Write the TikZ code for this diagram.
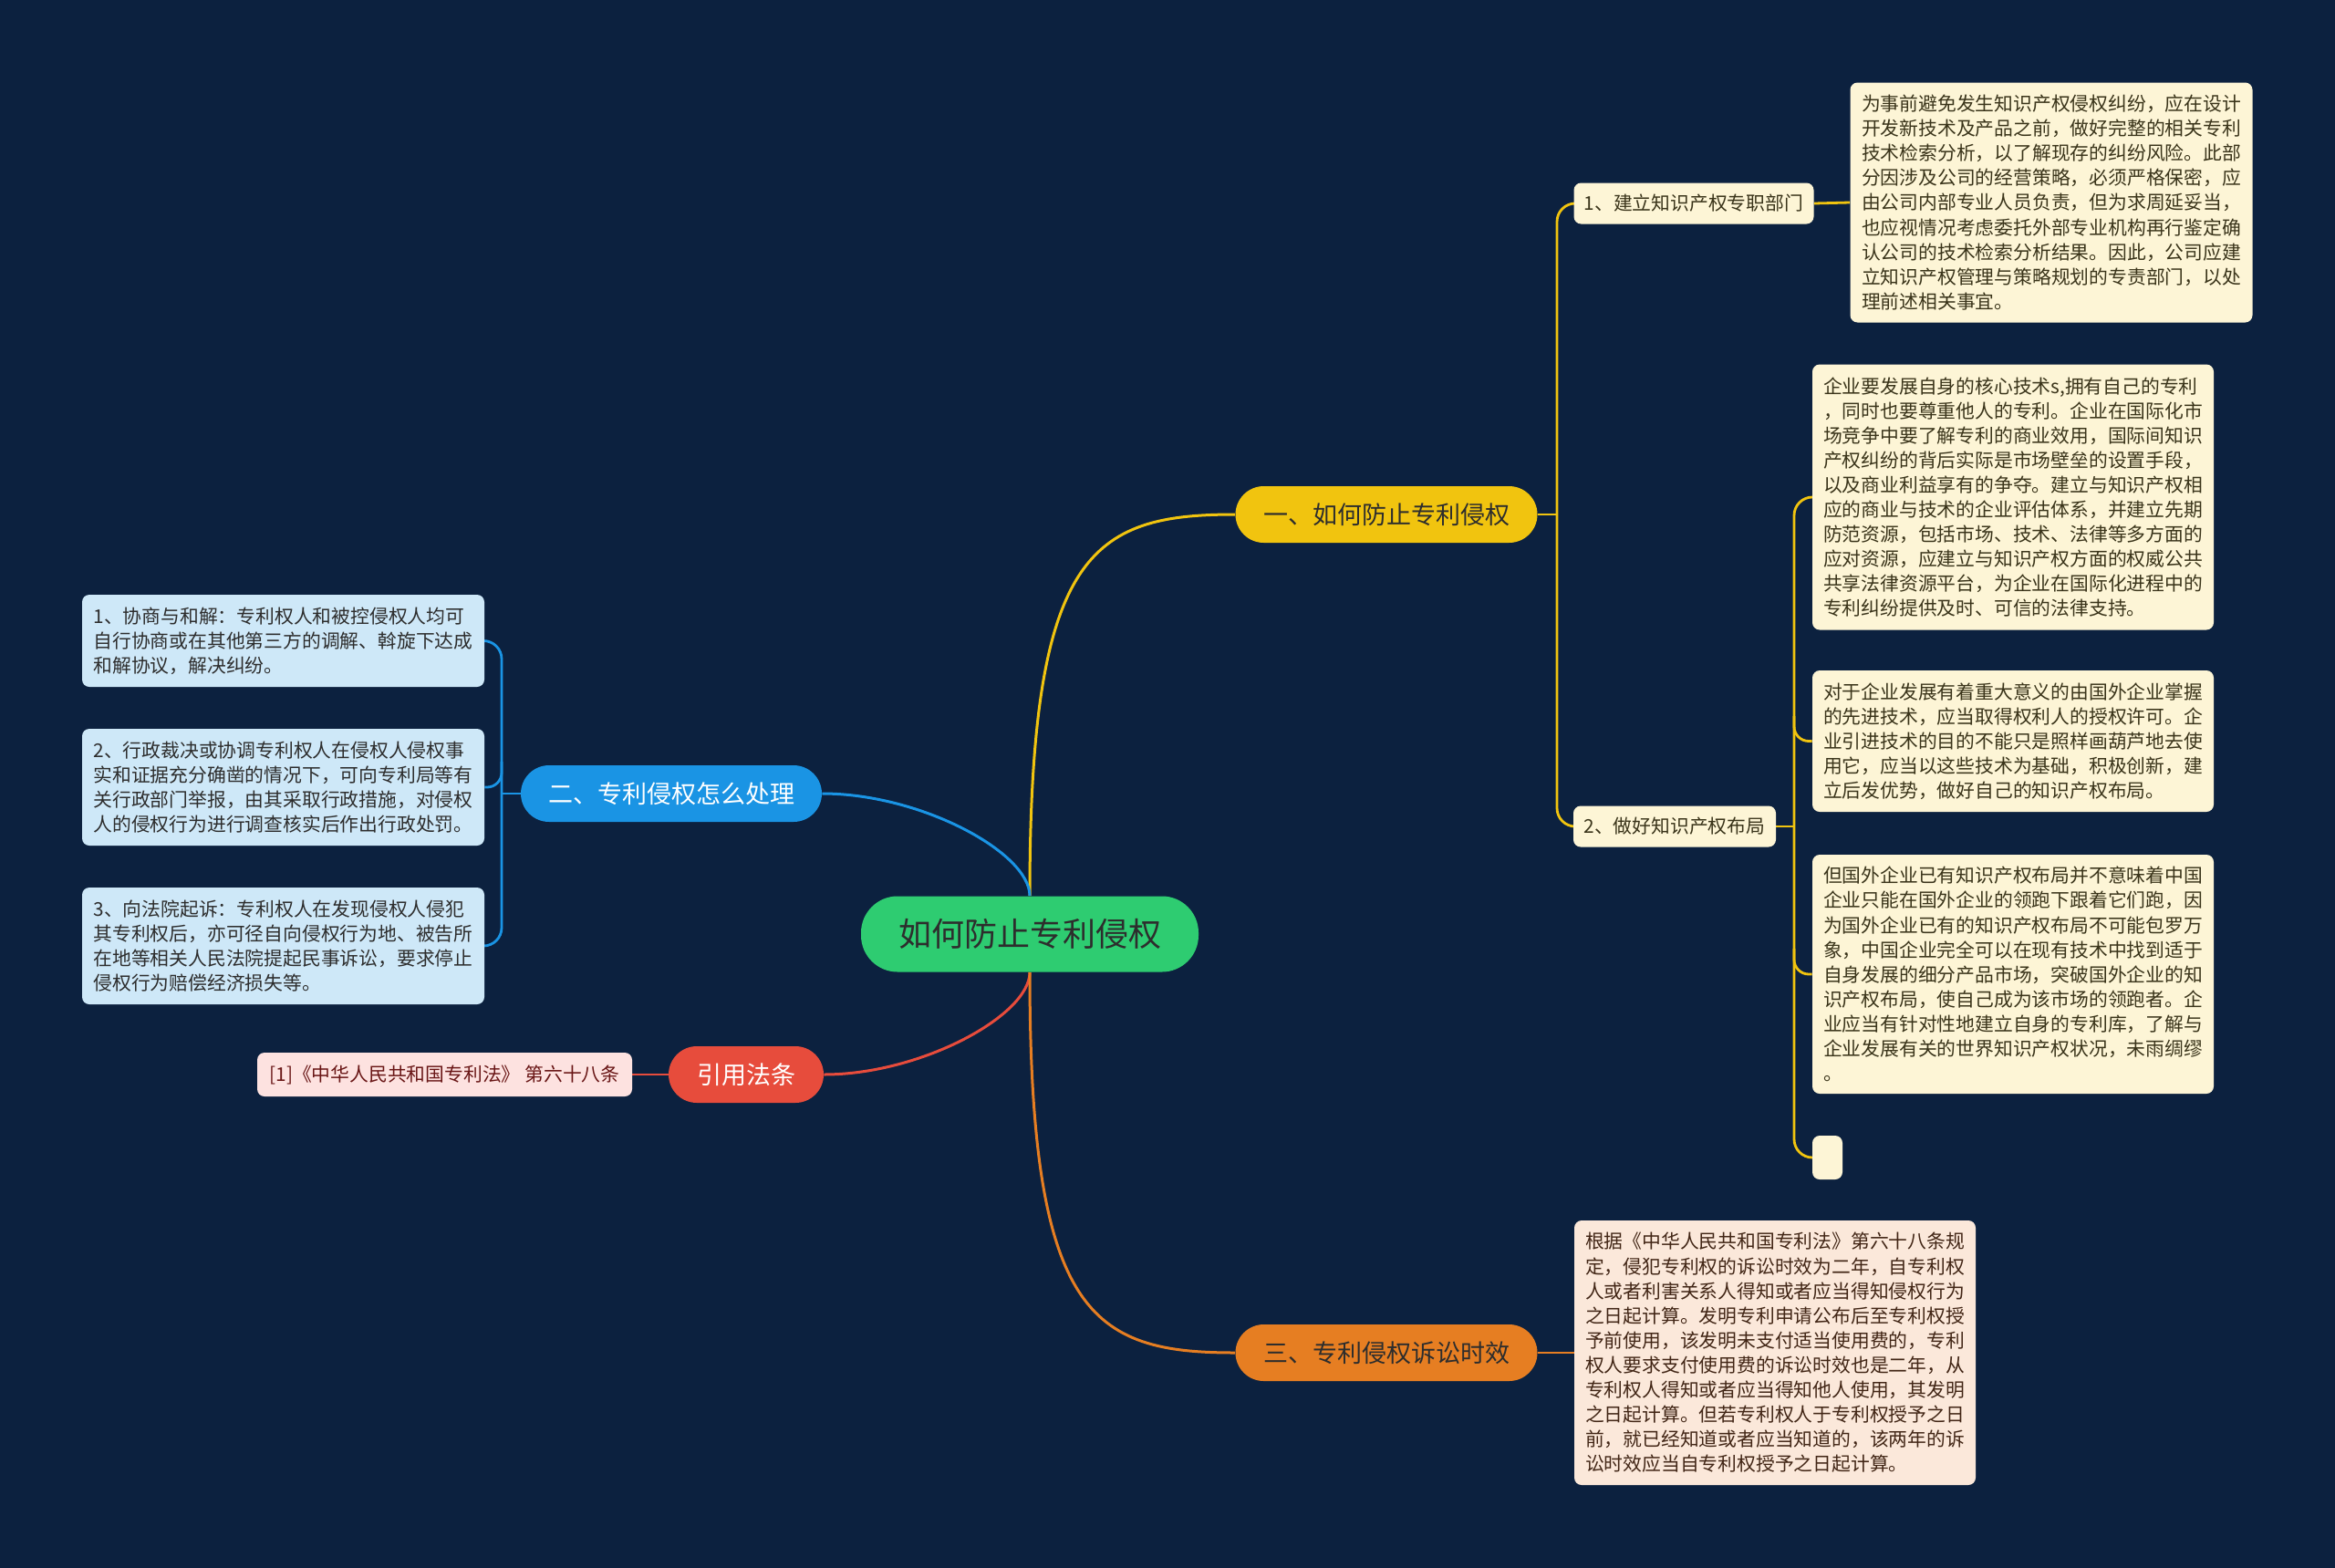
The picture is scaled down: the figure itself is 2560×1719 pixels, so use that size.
\documentclass[tikz,border=0pt]{standalone}
\usepackage{fontspec}
\setmainfont{Noto Sans CJK SC}
\definecolor{bg}{RGB}{12,33,63}
\definecolor{cgreen}{RGB}{46,204,113}
\definecolor{cyellow}{RGB}{241,196,15}
\definecolor{cblue}{RGB}{26,148,228}
\definecolor{corange}{RGB}{230,126,34}
\definecolor{cred}{RGB}{231,76,60}
\definecolor{fyellow}{RGB}{253,245,214}
\definecolor{fblue}{RGB}{206,232,248}
\definecolor{fpeach}{RGB}{251,232,218}
\definecolor{fpink}{RGB}{253,226,224}
\definecolor{tdark}{RGB}{45,45,45}
\definecolor{tolive}{RGB}{58,52,26}
\definecolor{tbrown}{RGB}{66,38,22}
\definecolor{tred}{RGB}{105,22,22}
\newcommand\lfnt{\fontsize{10.4}{13.55}\selectfont}
\newcommand\brfnt{\fontsize{13.5}{16}\selectfont}
\newcommand\rtfnt{\fontsize{18}{21}\selectfont}
\pgfdeclarelayer{background}
\pgfsetlayers{background,main}
\tikzset{
  rootbox/.style={fill=cgreen, text=tdark, font=\rtfnt, rounded corners=20pt, minimum width=185pt, minimum height=41.5pt, inner sep=0pt},
  branch/.style={text=tdark, font=\brfnt, rounded corners=15.5pt, minimum height=31pt, inner sep=0pt},
  sub/.style={fill=fyellow, text=tolive, font=\lfnt, rounded corners=4pt, minimum height=22.5pt, inner sep=0pt},
  leaf/.style={font=\lfnt, rounded corners=4pt, align=left, inner xsep=5pt, inner ysep=0pt},
  leafY/.style={leaf, fill=fyellow, text=tolive, minimum width=220pt},
  leafB/.style={leaf, fill=fblue, text=tdark, minimum width=220.5pt},
  leafO/.style={leaf, fill=fpeach, text=tbrown, minimum width=220pt},
  leafP/.style={leaf, fill=fpink, text=tred},
  curve/.style={line width=1.5pt},
  spine/.style={line width=1.4pt}
}
\begin{document}
\begin{tikzpicture}[x=0.5pt,y=-0.5pt]
\useasboundingbox (0,0) rectangle (2560,1719);
% nodes
\node[rootbox] (root) at (1129,1024) {如何防止专利侵权};
\node[branch, fill=cyellow, minimum width=165.5pt] (b1) at (1520,564) {一、如何防止专利侵权};
\node[branch, fill=cblue, text=white, minimum width=165pt] (b2) at (736,870) {二、专利侵权怎么处理};
\node[branch, fill=corange, minimum width=165.5pt] (b3) at (1520,1483) {三、专利侵权诉讼时效};
\node[branch, fill=cred, text=white, minimum width=85pt] (b4) at (818,1178) {引用法条};
\node[sub, minimum width=131.5pt] (c1) at (1857,223) {1、建立知识产权专职部门};
\node[sub, minimum width=111pt] (c2) at (1836,906) {2、做好知识产权布局};
\node[leafY, minimum width=220.5pt, minimum height=131.5pt] (l1) at (2249,222) {为事前避免发生知识产权侵权纠纷，应在设计\\开发新技术及产品之前，做好完整的相关专利\\技术检索分析，以了解现存的纠纷风险。此部\\分因涉及公司的经营策略，必须严格保密，应\\由公司内部专业人员负责，但为求周延妥当，\\也应视情况考虑委托外部专业机构再行鉴定确\\认公司的技术检索分析结果。因此，公司应建\\立知识产权管理与策略规划的专责部门，以处\\理前述相关事宜。};
\node[leafY, minimum height=145.5pt] (l2a) at (2207,545) {企业要发展自身的核心技术s,拥有自己的专利\\，同时也要尊重他人的专利。企业在国际化市\\场竞争中要了解专利的商业效用，国际间知识\\产权纠纷的背后实际是市场壁垒的设置手段，\\以及商业利益享有的争夺。建立与知识产权相\\应的商业与技术的企业评估体系，并建立先期\\防范资源，包括市场、技术、法律等多方面的\\应对资源，应建立与知识产权方面的权威公共\\共享法律资源平台，为企业在国际化进程中的\\专利纠纷提供及时、可信的法律支持。};
\node[leafY, minimum height=77.5pt] (l2b) at (2207,812.5) {对于企业发展有着重大意义的由国外企业掌握\\的先进技术，应当取得权利人的授权许可。企\\业引进技术的目的不能只是照样画葫芦地去使\\用它，应当以这些技术为基础，积极创新，建\\立后发优势，做好自己的知识产权布局。};
\node[leafY, minimum height=131pt] (l2c) at (2207,1068) {但国外企业已有知识产权布局并不意味着中国\\企业只能在国外企业的领跑下跟着它们跑，因\\为国外企业已有的知识产权布局不可能包罗万\\象，中国企业完全可以在现有技术中找到适于\\自身发展的细分产品市场，突破国外企业的知\\识产权布局，使自己成为该市场的领跑者。企\\业应当有针对性地建立自身的专利库，了解与\\企业发展有关的世界知识产权状况，未雨绸缪\\。};
\node[leaf, fill=fyellow, minimum width=16.5pt, minimum height=24pt] (l2d) at (2003.5,1269) {};
\node[leafO, minimum height=145pt] (l3) at (1946,1483) {根据《中华人民共和国专利法》第六十八条规\\定，侵犯专利权的诉讼时效为二年，自专利权\\人或者利害关系人得知或者应当得知侵权行为\\之日起计算。发明专利申请公布后至专利权授\\予前使用，该发明未支付适当使用费的，专利\\权人要求支付使用费的诉讼时效也是二年，从\\专利权人得知或者应当得知他人使用，其发明\\之日起计算。但若专利权人于专利权授予之日\\前，就已经知道或者应当知道的，该两年的诉\\讼时效应当自专利权授予之日起计算。};
\node[leafB, minimum height=50.5pt] (l21) at (310.5,702.5) {1、协商与和解：专利权人和被控侵权人均可\\自行协商或在其他第三方的调解、斡旋下达成\\和解协议，解决纠纷。};
\node[leafB, minimum height=64pt] (l22) at (310.5,863) {2、行政裁决或协调专利权人在侵权人侵权事\\实和证据充分确凿的情况下，可向专利局等有\\关行政部门举报，由其采取行政措施，对侵权\\人的侵权行为进行调查核实后作出行政处罚。};
\node[leafB, minimum height=64pt] (l23) at (310.5,1037) {3、向法院起诉：专利权人在发现侵权人侵犯\\其专利权后，亦可径自向侵权行为地、被告所\\在地等相关人民法院提起民事诉讼，要求停止\\侵权行为赔偿经济损失等。};
\node[leafP, minimum width=205.5pt, minimum height=24pt] (l4) at (487.5,1178) {[1]《中华人民共和国专利法》 第六十八条};
% connectors
\begin{pgfonlayer}{background}
\fill[bg] (0,0) rectangle (2560,1719);
\draw[cyellow, curve] (root.north) .. controls (1129,606) and (1196,564) .. (b1.west);
\draw[cblue, curve] (root.north) .. controls (1129,935) and (1010,870) .. (b2.east);
\draw[cred, curve] (root.south) .. controls (1129,1113) and (1010,1178) .. (b4.east);
\draw[corange, curve] (root.south) .. controls (1129,1441) and (1196,1483) .. (b3.west);
% branch 1
\draw[cyellow, spine] (b1.east) -- (1707,564);
\draw[cyellow, spine, rounded corners=10pt] (c1.west) -- (1707,223) -- (1707,906) -- (c2.west);
\draw[cyellow, spine] (c1.east) -- (l1.west);
\draw[cyellow, spine] (c2.east) -- (1967,906);
\draw[cyellow, spine, rounded corners=10pt] (l2a.west) -- (1967,545) -- (1967,1269) -- (l2d.west);
\draw[cyellow, spine, rounded corners=8pt] (1967,785) -- (1967,812.5) -- (l2b.west);
\draw[cyellow, spine, rounded corners=8pt] (1967,1040) -- (1967,1068) -- (l2c.west);
% branch 2
\draw[cblue, spine] (b2.west) -- (550,870);
\draw[cblue, spine, rounded corners=10pt] (l21.east) -- (550,702.5) -- (550,1037) -- (l23.east);
\draw[cblue, spine, rounded corners=8pt] (550,835) -- (550,863) -- (l22.east);
% branch 3 and 4
\draw[corange, spine] (b3.east) -- (l3.west);
\draw[cred, spine] (l4.east) -- (b4.west);
\end{pgfonlayer}
\end{tikzpicture}
\end{document}
